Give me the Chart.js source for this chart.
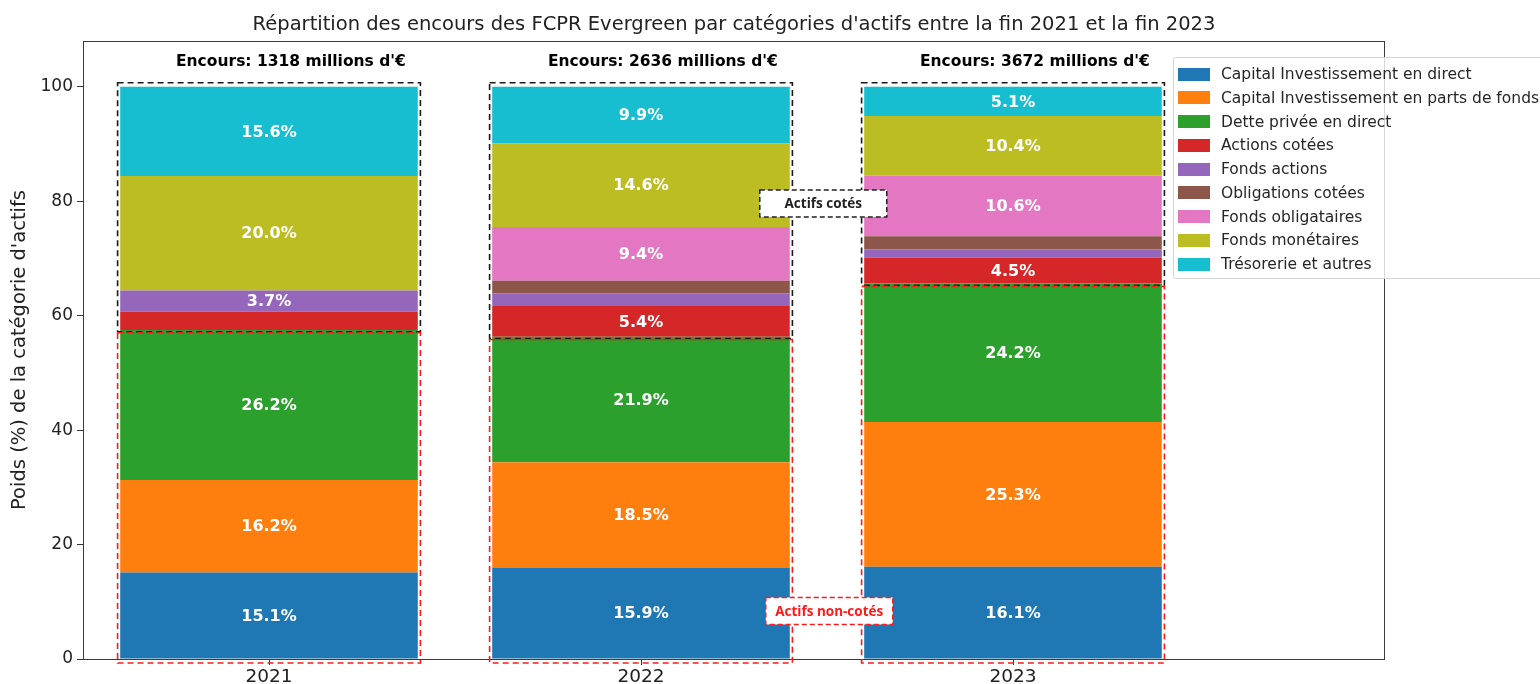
<!DOCTYPE html>
<html>
<head>
<meta charset="utf-8">
<script src="https://cdn.jsdelivr.net/npm/chart.js@4.4.1/dist/chart.umd.min.js"></script>
<style>
  body { margin: 0; background: #fff; }
  #wrap { position: relative; width: 1540px; height: 684px; overflow: hidden; }
  #legend {
    position: absolute; left: 1173px; top: 57px; width: 380px; height: 220px;
    border: 1px solid #d5d5d5; border-radius: 3px; background: rgba(255,255,255,0.8);
    font-family: 'DejaVu Sans', sans-serif; font-size: 15.5px; color: #262626;
  }
  .item { position: absolute; left: 4px; height: 20px; display: flex; align-items: center; white-space: nowrap; }
  .patch { width: 32px; height: 13px; margin-right: 11px; }
</style>
</head>
<body>
<div id="wrap">
  <canvas id="chart" width="1540" height="684"></canvas>
  <div id="legend"></div>
</div>
<script>
var years = ['2021', '2022', '2023'];
var encours = [1318, 2636, 3672];

var categories = [
  'Capital Investissement en direct',
  'Capital Investissement en parts de fonds',
  'Dette privée en direct',
  'Actions cotées',
  'Fonds actions',
  'Obligations cotées',
  'Fonds obligataires',
  'Fonds monétaires',
  'Trésorerie et autres'
];

// poids (%) par année
var capDirect     = [15.1, 15.9, 16.1];
var capFonds      = [16.2, 18.5, 25.3];
var dettePrivee   = [26.2, 21.9, 24.2];
var actionsCotees = [3.2, 5.4, 4.5];
var fondsActions  = [3.7, 2.2, 1.5];
var obligCotees   = [0, 2.2, 2.3];
var fondsOblig    = [0, 9.4, 10.6];
var fondsMonet    = [20.0, 14.6, 10.4];
var tresorerie    = [15.6, 9.9, 5.1];

var yTicks = [0, 20, 40, 60, 80, 100];

var series = [capDirect, capFonds, dettePrivee, actionsCotees, fondsActions,
              obligCotees, fondsOblig, fondsMonet, tresorerie];
var colors = ['#1f77b4', '#ff7f0e', '#2ca02c', '#d62728', '#9467bd',
              '#8c564b', '#e377c2', '#bcbd22', '#17becf'];

var FONT = "'DejaVu Sans', sans-serif";

var datasets = series.map(function(vals, k) {
  return {
    label: categories[k],
    data: vals.map(function(v, i) { return {x: i, y: v}; }),
    backgroundColor: colors[k],
    borderWidth: 0,
    barPercentage: 0.8,
    categoryPercentage: 1.0
  };
});

// html legend
var legendEl = document.getElementById('legend');
categories.forEach(function(name, k) {
  var row = document.createElement('div');
  row.className = 'item';
  row.style.top = (6 + k * 23.75) + 'px';
  row.innerHTML = '<span class="patch" style="background:' + colors[k] + '"></span>' + name;
  legendEl.appendChild(row);
});

function nonCote(i) {
  return capDirect[i] + capFonds[i] + dettePrivee[i];
}

var annotations = {
  id: 'annotations',
  beforeDatasetsDraw: function(chart) {
    var ctx = chart.ctx, a = chart.chartArea;
    ctx.save();
    ctx.strokeStyle = '#3a3a3a';
    ctx.lineWidth = 1;
    ctx.strokeRect(a.left + 0.5, a.top + 0.5, a.right - a.left - 1, a.bottom - a.top);
    ctx.restore();
  },
  afterDatasetsDraw: function(chart) {
    var ctx = chart.ctx, xs = chart.scales.x, ys = chart.scales.y;
    ctx.save();
    // segment labels
    ctx.fillStyle = '#ffffff';
    ctx.font = 'bold 16px ' + FONT;
    ctx.textAlign = 'center';
    ctx.textBaseline = 'middle';
    chart.data.datasets.forEach(function(ds, k) {
      var meta = chart.getDatasetMeta(k);
      meta.data.forEach(function(bar, i) {
        var v = series[k][i];
        if (v > 3.5) {
          ctx.fillText(v.toFixed(1) + '%', bar.x, (bar.y + bar.base) / 2 + 1);
        }
      });
    });

    // encours labels
    ctx.fillStyle = '#000';
    ctx.font = 'bold 15.5px ' + FONT;
    ctx.textAlign = 'left';
    years.forEach(function(y, i) {
      ctx.fillText('Encours: ' + encours[i] + " millions d'€", xs.getPixelForValue(i - 0.25), ys.getPixelForValue(104.4));
    });

    // dashed boxes
    ctx.lineWidth = 1.6;
    ctx.setLineDash([6, 4]);
    years.forEach(function(y, i) {
      var x0 = xs.getPixelForValue(i - 0.407), x1 = xs.getPixelForValue(i + 0.407);
      var mid = ys.getPixelForValue(nonCote(i) - 0.3);
      var top = ys.getPixelForValue(100.7), bot = ys.getPixelForValue(-0.7);
      ctx.strokeStyle = '#1a1a1a';
      ctx.strokeRect(x0, top, x1 - x0, mid - top);
      ctx.strokeStyle = '#ff1a1a';
      ctx.strokeRect(x0, mid + 1, x1 - x0, bot - mid - 1);
    });

    // text boxes
    function tag(text, vx, vy, color) {
      var cx = xs.getPixelForValue(vx), cy = ys.getPixelForValue(vy);
      var w = 127, h = 27;
      ctx.setLineDash([]);
      ctx.fillStyle = '#fff';
      ctx.fillRect(cx - w / 2, cy - h / 2, w, h);
      ctx.setLineDash([5, 3]);
      ctx.lineWidth = 1.5;
      ctx.strokeStyle = color;
      ctx.strokeRect(cx - w / 2, cy - h / 2, w, h);
      ctx.fillStyle = color;
      ctx.font = "bold 13.5px 'Open Sans', sans-serif";
      ctx.textAlign = 'center';
      ctx.fillText(text, cx, cy + 1);
    }
    tag('Actifs cotés', 1.49, 79.6, '#222');
    tag('Actifs non-cotés', 1.506, 8.4, '#ff1a1a');

    // title
    var a = chart.chartArea;
    ctx.fillStyle = '#222';
    ctx.font = '19.5px ' + FONT;
    ctx.textAlign = 'center';
    ctx.fillText("Répartition des encours des FCPR Evergreen par catégories d'actifs entre la fin 2021 et la fin 2023", (a.left + a.right) / 2, 25);
    ctx.restore();
  }
};

new Chart(document.getElementById('chart').getContext('2d'), {
  type: 'bar',
  data: { datasets: datasets },
  options: {
    responsive: false,
    animation: false,
    layout: { padding: { top: 41, right: 155, left: 0, bottom: 0 } },
    plugins: { legend: { display: false }, tooltip: { enabled: false } },
    scales: {
      x: {
        type: 'linear',
        stacked: true,
        offset: false,
        min: -0.5,
        max: 3.0,
        afterBuildTicks: function(axis) {
          axis.ticks = years.map(function(y, i) { return {value: i}; });
        },
        afterFit: function(axis) { axis.height = 25; },
        ticks: {
          color: '#222',
          font: { family: FONT, size: 18.5 },
          padding: 1,
          maxRotation: 0,
          callback: function(v) { return years[v]; }
        },
        grid: { display: true, offset: false, drawOnChartArea: false, drawTicks: true, tickLength: 6, color: '#333' },
        border: { display: false }
      },
      y: {
        stacked: true,
        min: 0,
        max: 108,
        afterBuildTicks: function(axis) {
          axis.ticks = yTicks.map(function(v) { return {value: v}; });
        },
        afterFit: function(axis) { axis.width = 83; },
        ticks: {
          color: '#222',
          font: { family: FONT, size: 17 },
          padding: 4
        },
        grid: { display: true, drawOnChartArea: false, drawTicks: true, tickLength: 6, color: '#333' },
        border: { display: false },
        title: {
          display: true,
          text: "Poids (%) de la catégorie d'actifs",
          color: '#222',
          font: { family: FONT, size: 19.5 },
          padding: { top: 8, bottom: 0 }
        }
      }
    }
  },
  plugins: [annotations]
});
</script>
</body>
</html>
